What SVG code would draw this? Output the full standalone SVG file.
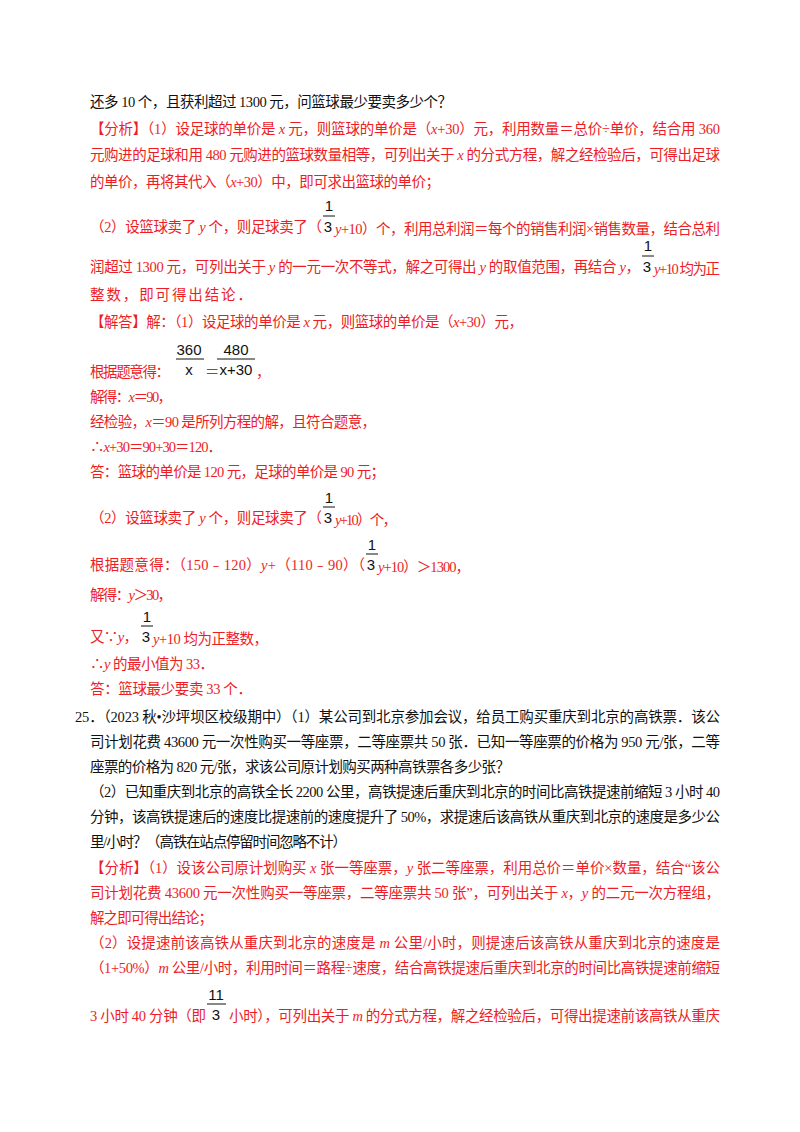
<svg xmlns="http://www.w3.org/2000/svg" width="800" height="1132" viewBox="0 0 800 1132">
<style>
text{font-family:"Liberation Serif","Noto Sans CJK SC",serif;font-size:14.5px}
.k{fill:#111}
.r{fill:#ee1c25}
.s{font-family:"Liberation Sans","Noto Sans CJK SC",sans-serif;font-size:15px;fill:#111}
.i{font-style:italic}
line{stroke:#111;stroke-width:1}
</style>
<rect width="800" height="1132" fill="#fff"/>
<text class="k" x="90" y="107" textLength="362" lengthAdjust="spacing">还多 10 个，且获利超过 1300 元，问篮球最少要卖多少个？</text>
<text class="r" x="90" y="134" textLength="630" lengthAdjust="spacing">【分析】（1）设足球的单价是 <tspan class="i">x</tspan> 元，则篮球的单价是（<tspan class="i">x</tspan>+30）元，利用数量＝总价÷单价，结合用 360</text>
<text class="r" x="90" y="160" textLength="630" lengthAdjust="spacing">元购进的足球和用 480 元购进的篮球数量相等，可列出关于 <tspan class="i">x</tspan> 的分式方程，解之经检验后，可得出足球</text>
<text class="r" x="90" y="187" textLength="350" lengthAdjust="spacing">的单价，再将其代入（<tspan class="i">x</tspan>+30）中，即可求出篮球的单价；</text>
<text class="r" x="90" y="232" textLength="232" lengthAdjust="spacing">（2）设篮球卖了 <tspan class="i">y</tspan> 个，则足球卖了（</text>
<text class="s" x="329" y="211" text-anchor="middle">1</text><line x1="323" y1="216" x2="335" y2="216"/><text class="s" x="328" y="232" text-anchor="middle">3</text>
<text class="r" x="335" y="234" textLength="385" lengthAdjust="spacing"><tspan class="i">y</tspan>+10）个，利用总利润＝每个的销售利润×销售数量，结合总利</text>
<text class="r" x="90" y="272" textLength="550" lengthAdjust="spacing">润超过 1300 元，可列出关于 <tspan class="i">y</tspan> 的一元一次不等式，解之可得出 <tspan class="i">y</tspan> 的取值范围，再结合 <tspan class="i">y</tspan>，</text>
<text class="s" x="648" y="251" text-anchor="middle">1</text><line x1="642" y1="256" x2="654" y2="256"/><text class="s" x="647" y="272" text-anchor="middle">3</text>
<text class="r" x="654" y="274" textLength="66" lengthAdjust="spacing"><tspan class="i">y</tspan>+10 均为正</text>
<text class="r" x="90" y="300" textLength="162" lengthAdjust="spacing">整数，即可得出结论．</text>
<text class="r" x="90" y="327" textLength="433" lengthAdjust="spacing">【解答】解：（1）设足球的单价是 <tspan class="i">x</tspan> 元，则篮球的单价是（<tspan class="i">x</tspan>+30）元，</text>
<text class="r" x="90" y="377" textLength="80" lengthAdjust="spacing">根据题意得：</text>
<text class="s" x="189" y="355" text-anchor="middle">360</text><line x1="176" y1="359" x2="204" y2="359"/><text class="s" x="189" y="375" text-anchor="middle">x</text>
<text class="r" x="205" y="377">＝</text>
<text class="s" x="236" y="355" text-anchor="middle">480</text><line x1="217" y1="359" x2="255" y2="359"/><text class="s" x="236" y="375" text-anchor="middle">x+30</text>
<text class="r" x="256" y="377">，</text>
<text class="r" x="90" y="402" textLength="82" lengthAdjust="spacing">解得：<tspan class="i">x</tspan>＝90，</text>
<text class="r" x="90" y="427" textLength="286" lengthAdjust="spacing">经检验，<tspan class="i">x</tspan>＝90 是所列方程的解，且符合题意，</text>
<text class="r" x="90" y="452" textLength="132" lengthAdjust="spacing">∴<tspan class="i">x</tspan>+30＝90+30＝120．</text>
<text class="r" x="90" y="477" textLength="295" lengthAdjust="spacing">答：篮球的单价是 120 元，足球的单价是 90 元；</text>
<text class="r" x="90" y="523" textLength="232" lengthAdjust="spacing">（2）设篮球卖了 <tspan class="i">y</tspan> 个，则足球卖了（</text>
<text class="s" x="329" y="503" text-anchor="middle">1</text><line x1="323" y1="507" x2="335" y2="507"/><text class="s" x="328" y="523" text-anchor="middle">3</text>
<text class="r" x="335" y="525" textLength="62" lengthAdjust="spacing"><tspan class="i">y</tspan>+10）个，</text>
<text class="r" x="90" y="570" textLength="275" lengthAdjust="spacing">根据题意得：（150﹣120）<tspan class="i">y</tspan>+（110﹣90）（</text>
<text class="s" x="372" y="550" text-anchor="middle">1</text><line x1="366" y1="554" x2="378" y2="554"/><text class="s" x="371" y="570" text-anchor="middle">3</text>
<text class="r" x="378" y="572" textLength="92" lengthAdjust="spacing"><tspan class="i">y</tspan>+10）＞1300，</text>
<text class="r" x="90" y="600" textLength="82" lengthAdjust="spacing">解得：<tspan class="i">y</tspan>＞30，</text>
<text class="r" x="90" y="642" textLength="48" lengthAdjust="spacing">又∵<tspan class="i">y</tspan>，</text>
<text class="s" x="147" y="622" text-anchor="middle">1</text><line x1="141" y1="626" x2="153" y2="626"/><text class="s" x="146" y="642" text-anchor="middle">3</text>
<text class="r" x="153" y="644" textLength="115" lengthAdjust="spacing"><tspan class="i">y</tspan>+10 均为正整数，</text>
<text class="r" x="90" y="669" textLength="124" lengthAdjust="spacing">∴<tspan class="i">y</tspan> 的最小值为 33．</text>
<text class="r" x="90" y="694" textLength="162" lengthAdjust="spacing">答：篮球最少要卖 33 个．</text>
<text class="k" x="75" y="722" textLength="645" lengthAdjust="spacing">25．（2023 秋•沙坪坝区校级期中）（1）某公司到北京参加会议，给员工购买重庆到北京的高铁票．该公</text>
<text class="k" x="90" y="747" textLength="630" lengthAdjust="spacing">司计划花费 43600 元一次性购买一等座票，二等座票共 50 张．已知一等座票的价格为 950 元/张，二等</text>
<text class="k" x="90" y="772" textLength="420" lengthAdjust="spacing">座票的价格为 820 元/张，求该公司原计划购买两种高铁票各多少张？</text>
<text class="k" x="90" y="797" textLength="630" lengthAdjust="spacing">（2）已知重庆到北京的高铁全长 2200 公里，高铁提速后重庆到北京的时间比高铁提速前缩短 3 小时 40</text>
<text class="k" x="90" y="822" textLength="630" lengthAdjust="spacing">分钟，该高铁提速后的速度比提速前的速度提升了 50%，求提速后该高铁从重庆到北京的速度是多少公</text>
<text class="k" x="90" y="847" textLength="257" lengthAdjust="spacing">里/小时？（高铁在站点停留时间忽略不计）</text>
<text class="r" x="90" y="873" textLength="630" lengthAdjust="spacing">【分析】（1）设该公司原计划购买 <tspan class="i">x</tspan> 张一等座票，<tspan class="i">y</tspan> 张二等座票，利用总价＝单价×数量，结合“该公</text>
<text class="r" x="90" y="898" textLength="630" lengthAdjust="spacing">司计划花费 43600 元一次性购买一等座票，二等座票共 50 张”，可列出关于 <tspan class="i">x</tspan>，<tspan class="i">y</tspan> 的二元一次方程组，</text>
<text class="r" x="90" y="923" textLength="123" lengthAdjust="spacing">解之即可得出结论；</text>
<text class="r" x="90" y="948" textLength="630" lengthAdjust="spacing">（2）设提速前该高铁从重庆到北京的速度是 <tspan class="i">m</tspan> 公里/小时，则提速后该高铁从重庆到北京的速度是</text>
<text class="r" x="90" y="973" textLength="630" lengthAdjust="spacing">（1+50%）<tspan class="i">m</tspan> 公里/小时，利用时间＝路程÷速度，结合高铁提速后重庆到北京的时间比高铁提速前缩短</text>
<text class="r" x="90" y="1021" textLength="116" lengthAdjust="spacing">3 小时 40 分钟（即</text>
<text class="s" x="216" y="1000" text-anchor="middle">11</text><line x1="207" y1="1004" x2="226" y2="1004"/><text class="s" x="216" y="1020" text-anchor="middle">3</text>
<text class="r" x="229" y="1021" textLength="491" lengthAdjust="spacing">小时），可列出关于 <tspan class="i">m</tspan> 的分式方程，解之经检验后，可得出提速前该高铁从重庆</text>
</svg>
